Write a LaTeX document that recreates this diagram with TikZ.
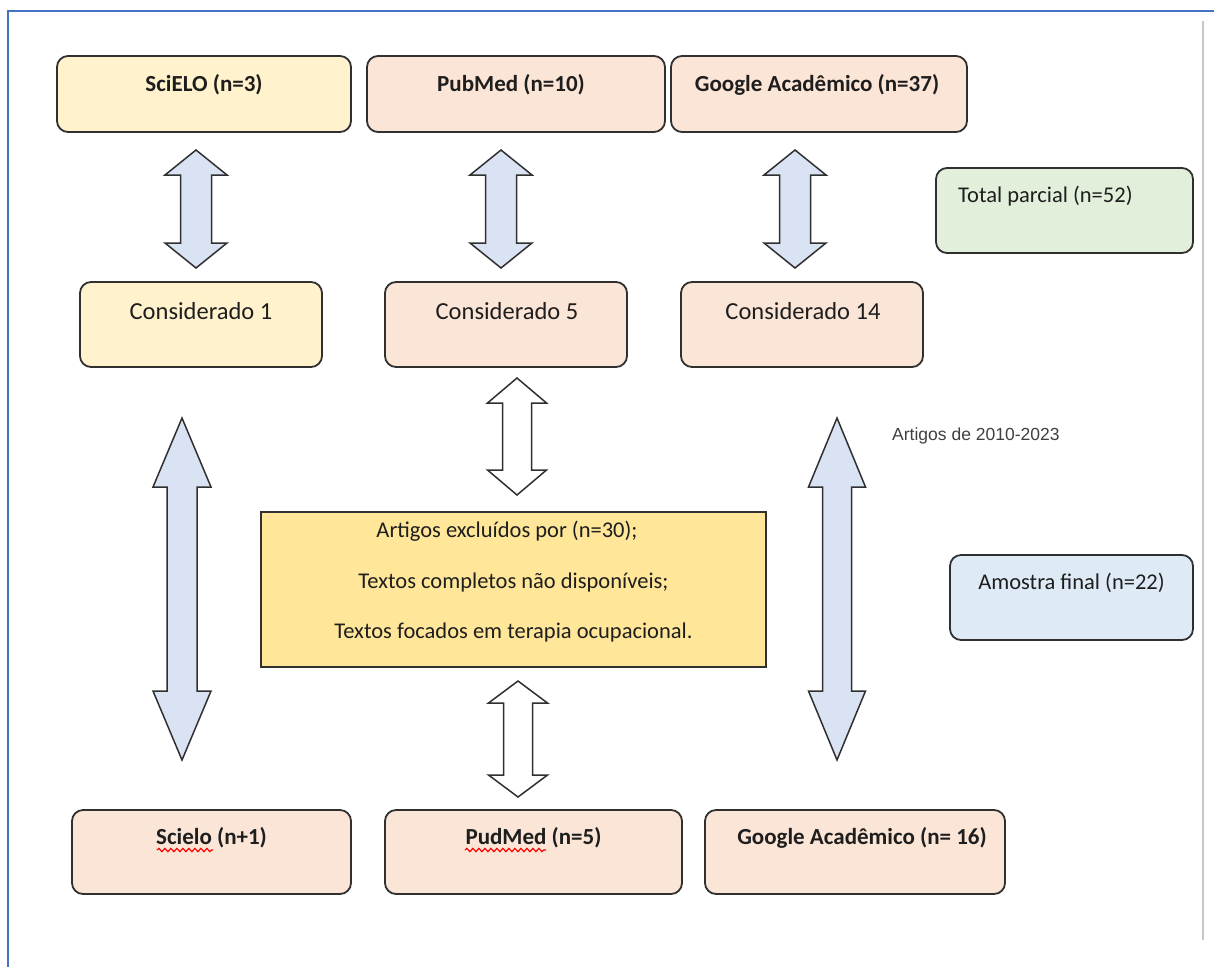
\documentclass[tikz,border=0pt]{standalone}
\usepackage{fontspec}
\setmainfont{Carlito}
\newfontfamily\arialfont{Liberation Sans}
\usetikzlibrary{decorations.pathmorphing}
\definecolor{frameblue}{HTML}{4472C4}
\definecolor{lightyellow}{HTML}{FFF2CC}
\definecolor{peach}{HTML}{FBE5D6}
\definecolor{lightgreen}{HTML}{E2EFDA}
\definecolor{gold}{HTML}{FFE699}
\definecolor{lightblue}{HTML}{DEEBF7}
\definecolor{arrowblue}{HTML}{DAE3F3}
\definecolor{edgegray}{HTML}{303030}
\definecolor{txtgray}{HTML}{1E1E1E}
\newcommand{\vblockarrow}[7]{%
  \draw[#7] (#1,#2) -- (#1+#5,#2+#6) -- (#1+#4,#2+#6) -- (#1+#4,#3-#6) -- (#1+#5,#3-#6)
    -- (#1,#3) -- (#1-#5,#3-#6) -- (#1-#4,#3-#6) -- (#1-#4,#2+#6) -- (#1-#5,#2+#6) -- cycle;}
\tikzset{
  rbox/.style={draw=edgegray, line width=1.8pt, rounded corners=11pt, inner sep=0pt},
  sbox/.style={draw=edgegray, line width=1.8pt, inner sep=0pt},
  boldtxt/.style={font=\fontsize{23}{27}\selectfont\bfseries, text=txtgray, inner sep=0pt},
  regtxt/.style={font=\fontsize{24.5}{28}\selectfont, text=txtgray, inner sep=0pt},
  midtxt/.style={font=\fontsize{22.5}{26}\selectfont, text=txtgray, inner sep=0pt},
  bluearrow/.style={draw=edgegray, line width=1.5pt, fill=arrowblue, line join=miter},
  hollowarrow/.style={draw=edgegray, line width=1.5pt, fill=white, line join=miter},
  squig/.style={draw=red, line width=1.2pt, decorate, decoration={snake, amplitude=1.6pt, segment length=6pt}}
}
\begin{document}
\begin{tikzpicture}[x=1pt,y=-1pt]
\useasboundingbox (0,0) rectangle (1214,967);
\fill[white] (0,0) rectangle (1214,967);
% frame lines
\draw[frameblue, line width=2pt] (8,967) -- (8,11) -- (1214,11);
\draw[black!22, line width=2pt] (1203,21) -- (1203,940);

% top boxes
\node[rbox, fill=lightyellow, minimum width=294pt, minimum height=76pt] (sci) at (204,94) {};
\node[rbox, fill=peach, minimum width=298pt, minimum height=76pt] (pub) at (516,94) {};
\node[rbox, fill=peach, minimum width=296pt, minimum height=76pt] (goo) at (819,94) {};
\node[boldtxt] (scit) at (204,85) {SciELO (n=3)};
\node[boldtxt] (pubt) at (511,85) {PubMed (n=10)};
\node[boldtxt] (goot) at (817,85) {Google Acadêmico (n=37)};

\node[rbox, fill=lightgreen, minimum width=257pt, minimum height=85pt] (tot) at (1064.5,210.5) {};
\node[midtxt, anchor=west] (tott) at (958,196) {Total parcial (n=52)};

% considered
\node[rbox, fill=lightyellow, minimum width=242pt, minimum height=85pt] (c1) at (201,324.5) {};
\node[rbox, fill=peach, minimum width=242pt, minimum height=85pt] (c5) at (506,324.5) {};
\node[rbox, fill=peach, minimum width=242pt, minimum height=85pt] (c14) at (802,324.5) {};
\node[regtxt] (c1t) at (201,311) {Considerado 1};
\node[regtxt] (c5t) at (507,311) {Considerado 5};
\node[regtxt] (c14t) at (803,311) {Considerado 14};

% years note
\node[font=\arialfont\fontsize{17.5}{20}\selectfont, text=black!75, anchor=west, inner sep=0pt] (yrs) at (892,436) {Artigos de 2010-2023};

% excluded
\node[sbox, fill=gold, minimum width=505pt, minimum height=155pt] (exc) at (513.5,589.5) {};
\node[midtxt] (exc1) at (507,531) {Artigos excluídos por (n=30);};
\node[midtxt] (exc2) at (513.5,582) {Textos completos não disponíveis;};
\node[midtxt] (exc3) at (513.5,632) {Textos focados em terapia ocupacional.};

% final sample
\node[rbox, fill=lightblue, minimum width=243pt, minimum height=85pt] (amo) at (1071.5,597.5) {};
\node[midtxt] (amot) at (1071.5,583) {Amostra final (n=22)};

% bottom boxes
\node[rbox, fill=peach, minimum width=279pt, minimum height=84pt] (b1) at (211.5,852) {};
\node[rbox, fill=peach, minimum width=297pt, minimum height=84pt] (b2) at (533.5,852) {};
\node[rbox, fill=peach, minimum width=300pt, minimum height=84pt] (b3) at (855,852) {};
\node[boldtxt] (b1t) at (211.5,838) {Scielo (n+1)};
\node[boldtxt] (b2t) at (533.5,838) {PudMed (n=5)};
\node[boldtxt] (b3t) at (862,838) {Google Acadêmico (n= 16)};
\draw[squig] (157,850) -- (213,850);
\draw[squig] (465,850) -- (546,850);

% block arrows
\vblockarrow{196}{150}{268}{15.5}{31}{25}{bluearrow}
\vblockarrow{501}{150}{268}{15.5}{31}{25}{bluearrow}
\vblockarrow{795}{150}{268}{15.5}{31}{25}{bluearrow}
\vblockarrow{517}{378}{495}{14.5}{29.5}{25}{hollowarrow}
\vblockarrow{518}{681}{797}{14.5}{29.5}{22}{hollowarrow}
\vblockarrow{182}{418}{760}{15}{29}{69}{bluearrow}
\vblockarrow{837}{418}{760}{14.5}{28.5}{69}{bluearrow}
\end{tikzpicture}
\end{document}
